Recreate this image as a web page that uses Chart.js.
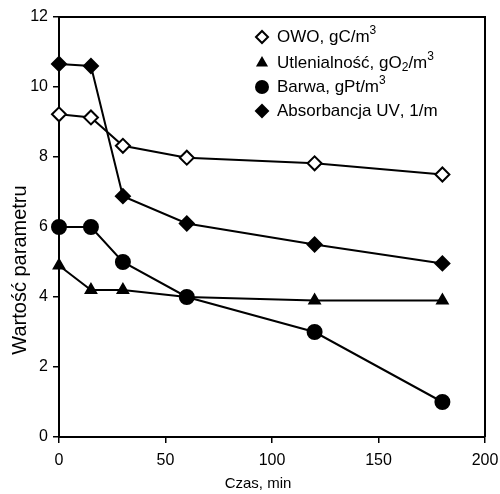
<!DOCTYPE html>
<html>
<head>
<meta charset="utf-8">
<script src="https://cdn.jsdelivr.net/npm/chart.js@4/dist/chart.umd.min.js"></script>
<style>
    html, body { margin: 0; background: #fff; }
    #wrap { width: 500px; height: 494px; }
</style>
</head>
<body>
<div id="wrap"><canvas id="chart"></canvas></div>
<script>
const czas = [0, 15, 30, 60, 120, 180];
const owo = [9.22, 9.13, 8.32, 7.98, 7.82, 7.5];
const utlenialnosc = [4.9, 4.2, 4.2, 4.0, 3.9, 3.9];
const barwa = [6.0, 6.0, 5.0, 4.0, 3.0, 1.0];
const absorbancja = [10.66, 10.6, 6.88, 6.1, 5.5, 4.96];
const seriesNames = ["OWO, gC/m³", "Utlenialność, gO₂/m³", "Barwa, gPt/m³", "Absorbancja UV, 1/m"];
const xTicks = [0, 50, 100, 150, 200];
const yTicks = [0, 2, 4, 6, 8, 10, 12];
const xTitle = "Czas, min";
const yTitle = "Wartość parametru";

const FONT = "'Liberation Sans', Arial, sans-serif";

function toPoints(values) {
    return czas.map((x, i) => ({ x: x, y: values[i] }));
}

function makeDataset(label, values, style, radius, fill) {
    return {
        label: label,
        data: toPoints(values),
        borderColor: "#000",
        borderWidth: 2,
        pointStyle: style,
        pointRadius: radius,
        pointBorderWidth: 2,
        pointBorderColor: "#000",
        pointBackgroundColor: fill,
        tension: 0,
        clip: false
    };
}

// draws the box around the plot (top + right edges)
const framePlugin = {
    id: "frame",
    afterDraw(chart) {
        const { ctx, chartArea: a } = chart;
        ctx.save();
        ctx.strokeStyle = "#000";
        ctx.lineWidth = 2;
        ctx.beginPath();
        ctx.moveTo(a.left, a.top);
        ctx.lineTo(a.right, a.top);
        ctx.lineTo(a.right, a.bottom);
        ctx.stroke();
        ctx.restore();
    }
};

// axis titles sit a bit off the axis centres in the original
const titlesPlugin = {
    id: "titles",
    afterDraw(chart) {
        const ctx = chart.ctx;
        ctx.save();
        ctx.fillStyle = "#000";
        ctx.textAlign = "center";
        ctx.textBaseline = "middle";
        ctx.font = `15px ${FONT}`;
        ctx.fillText(xTitle, 258, 484);
        ctx.translate(20, 270);
        ctx.rotate(-Math.PI / 2);
        ctx.font = `20px ${FONT}`;
        ctx.fillText(yTitle, 0, 0);
        ctx.restore();
    }
};

/**
 * Writes a label, drawing ³ and ₂ as small raised / lowered digits.
 */
function drawRichText(ctx, text, x, y, size) {
    const small = Math.round(size * 0.7);
    for (const ch of text) {
        let t = ch, dy = 0, s = size;
        if (ch === "³") { t = "3"; dy = -size * 0.38; s = small; }
        if (ch === "₂") { t = "2"; dy = size * 0.25; s = small; }
        ctx.font = `${s}px ${FONT}`;
        ctx.fillText(t, x, y + dy);
        x += ctx.measureText(t).width;
    }
}

const legendPlugin = {
    id: "customLegend",
    afterDraw(chart) {
        const ctx = chart.ctx;
        const rows = [37, 63, 87, 111];
        ctx.save();
        chart.data.datasets.forEach((ds, i) => {
            const y = rows[i];
            ctx.fillStyle = ds.pointBackgroundColor;
            ctx.strokeStyle = "#000";
            ctx.lineWidth = 2;
            Chart.helpers.drawPoint(ctx, {
                pointStyle: ds.pointStyle,
                radius: ds.pointRadius - 1,
                rotation: 0,
                borderWidth: 2
            }, 262, y);
            ctx.fillStyle = "#000";
            ctx.textAlign = "left";
            ctx.textBaseline = "middle";
            drawRichText(ctx, ds.label, 277, y, 17);
        });
        ctx.restore();
    }
};

const axisCommon = {
    grid: {
        display: true,
        drawOnChartArea: false,
        drawTicks: true,
        tickLength: 6,
        color: "#000",
        lineWidth: 1.5
    },
    border: { display: true, color: "#000", width: 2 },
    ticks: {
        color: "#000",
        font: { family: FONT, size: 16 }
    }
};

new Chart(document.getElementById("chart"), {
    type: "line",
    data: {
        datasets: [
            makeDataset(seriesNames[0], owo, "rectRot", 7, "#fff"),
            makeDataset(seriesNames[1], utlenialnosc, "triangle", 6, "#000"),
            makeDataset(seriesNames[2], barwa, "circle", 7, "#000"),
            makeDataset(seriesNames[3], absorbancja, "rectRot", 7, "#000")
        ]
    },
    options: {
        responsive: true,
        maintainAspectRatio: false,
        animation: false,
        layout: { padding: { top: 17, right: 15, left: 0, bottom: 0 } },
        plugins: {
            legend: { display: false },
            tooltip: { enabled: false }
        },
        scales: {
            x: {
                ...axisCommon,
                type: "linear",
                min: xTicks[0],
                max: xTicks[xTicks.length - 1],
                ticks: { ...axisCommon.ticks, padding: 8 },
                afterBuildTicks: scale => { scale.ticks = xTicks.map(v => ({ value: v })); },
                afterFit: scale => {
                    scale.height = 57;
                    // let the "200" label hang into the right margin
                    scale.paddingLeft = 0;
                    scale.paddingRight = 0;
                }
            },
            y: {
                ...axisCommon,
                type: "linear",
                min: yTicks[0],
                max: yTicks[yTicks.length - 1],
                ticks: { ...axisCommon.ticks, padding: 5 },
                afterBuildTicks: scale => { scale.ticks = yTicks.map(v => ({ value: v })); },
                afterFit: scale => {
                    scale.width = 59;
                    scale.paddingTop = 0;
                    scale.paddingBottom = 0;
                }
            }
        }
    },
    plugins: [framePlugin, titlesPlugin, legendPlugin]
});
</script>
</body>
</html>
